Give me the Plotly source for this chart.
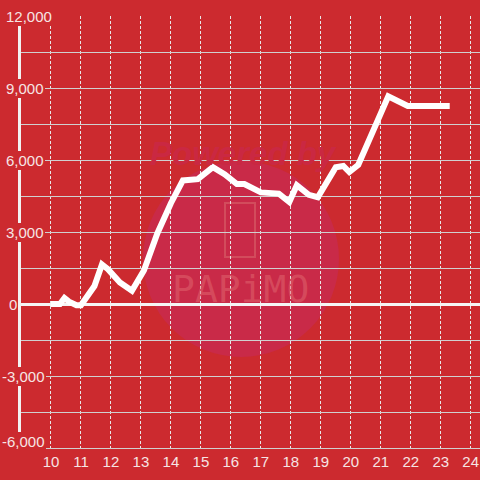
import plotly.graph_objects as go

# ---- data ----
hours = [10.0, 10.3, 10.45, 10.6, 10.85, 11.0, 11.45, 11.7, 11.9, 12.3, 12.7,
         13.1, 13.55, 14.0, 14.4, 14.9, 15.4, 15.8, 16.2, 16.45, 17.0, 17.6,
         17.95, 18.2, 18.6, 18.9, 19.5, 19.75, 19.95, 20.25, 21.25, 21.9, 23.3]
values = [0, 0, 250, 100, -50, -50, 750, 1650, 1450, 900, 550,
          1400, 2950, 4200, 5150, 5200, 5700, 5400, 5000, 5000, 4650, 4600,
          4250, 4950, 4550, 4450, 5700, 5750, 5500, 5800, 8650, 8250, 8250]
x_ticks = list(range(10, 25))
y_ticks = [-6000, -3000, 0, 3000, 6000, 9000, 12000]
y_labels = ["-6,000", "-3,000", "0", "3,000", "6,000", "9,000", "12,000"]

BG = "#cc2a2f"
TXT = "#f6e4e4"
W, H = 480, 480
L, R, T, B = 21, 0, 16, 32
PW, PH = W - L - R, H - T - B


def px(x):
    return (x - L) / PW


def py(y):
    return (H - B - y) / PH


fig = go.Figure()
fig.add_trace(go.Scatter(
    x=hours, y=values, mode="lines",
    line=dict(color="#ffffff", width=6),
    hoverinfo="skip", showlegend=False,
))

# watermark (decorative)
shapes = [
    dict(type="circle", xref="paper", yref="paper", layer="below",
         x0=px(143), x1=px(339), y0=py(357), y1=py(161),
         fillcolor="#c92a48", line=dict(width=0)),
    dict(type="rect", xref="paper", yref="paper", layer="below",
         x0=px(225), x1=px(255), y0=py(257), y1=py(203),
         line=dict(color="#d24c5c", width=2), fillcolor="rgba(0,0,0,0)"),
]

annotations = [
    dict(text="<b><i>Powered by</i></b>", xref="paper", yref="paper",
         x=px(243), y=py(133), showarrow=False,
         font=dict(family="Liberation Sans", size=33, color="#ca2842")),
    dict(text="PAPiMO", xref="paper", yref="paper",
         x=px(240), y=py(289), showarrow=False,
         font=dict(family="DejaVu Sans Mono", size=38, color="rgba(225,105,112,0.5)")),
]

# y tick labels drawn over the axis line with a background box
label_left = {-6000: 2, -3000: 2, 0: 9, 3000: 6, 6000: 6, 9000: 6, 12000: 6}
for v, t in zip(y_ticks, y_labels):
    annotations.append(dict(
        text=t, xref="paper", yref="y", x=px(label_left[v] - 1), y=v,
        xanchor="left", yanchor="middle", showarrow=False,
        yshift=7 if v == -6000 else 0,
        bgcolor=BG, borderpad=1, borderwidth=0,
        font=dict(family="Liberation Sans", size=15, color=TXT)))

fig.update_layout(
    width=W, height=H,
    margin=dict(l=L, r=R, t=T, b=B),
    paper_bgcolor=BG, plot_bgcolor="rgba(0,0,0,0)",
    shapes=shapes, annotations=annotations,
    xaxis=dict(
        range=[9, 24 + 9.3 / 30], tickmode="array", tickvals=x_ticks,
        ticktext=[str(v) for v in x_ticks], ticks="",
        tickfont=dict(family="Liberation Sans", size=15, color=TXT),
        showgrid=True, gridcolor="#e8e8e8", gridwidth=1, griddash="3px,2px",
        showline=True, linecolor="#d0d0d0", linewidth=1,
        zeroline=False, fixedrange=True,
    ),
    yaxis=dict(
        range=[-6000, 12000], tickmode="linear", tick0=-6000, dtick=1500,
        showticklabels=False, ticks="",
        showgrid=True, gridcolor="#d0d0d0", gridwidth=1,
        zeroline=True, zerolinecolor="#f5f5f5", zerolinewidth=3,
        showline=True, linecolor="#f2f2f2", linewidth=3,
        fixedrange=True,
    ),
)

fig.write_html(
    "out.html",
    config={"displayModeBar": False},
    post_script="document.body.style.margin='0';document.body.style.padding='0';",
)
